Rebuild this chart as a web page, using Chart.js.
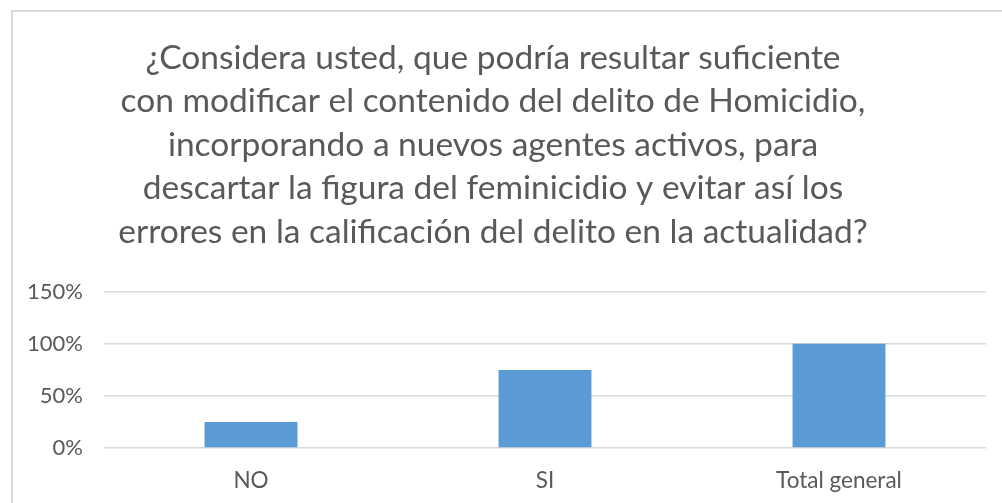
<!DOCTYPE html>
<html>
<head>
<meta charset="utf-8">
<script src="https://cdn.jsdelivr.net/npm/chart.js@4/dist/chart.umd.min.js"></script>
<style>
    html, body { margin: 0; padding: 0; background: #fff; }
    #wrap { position: relative; width: 1002px; height: 503px; overflow: hidden; }
    #frame { position: absolute; left: 11px; top: 10px; width: 1100px; height: 600px;
             border-left: 2px solid #d9d9d9; border-top: 2px solid #d9d9d9; }
    canvas { position: absolute; left: 0; top: 0; }
</style>
</head>
<body>
<div id="wrap">
    <div id="frame"></div>
    <canvas id="myChart" width="1002" height="503"></canvas>
</div>
<script>
const categories = ['NO', 'SI', 'Total general'];
const percentValues = [0.25, 0.75, 1.00];
const yTicks = [0, 0.5, 1, 1.5];
const titleLines = [
    '¿Considera usted, que podría resultar suficiente',
    'con modificar el contenido del delito de Homicidio,',
    'incorporando a nuevos agentes activos, para',
    'descartar la figura del feminicidio y evitar así los',
    'errores en la calificación del delito en la actualidad?'
];

const textColor = '#595959';
const gridColor = '#d9d9d9';

const ctx = document.getElementById('myChart').getContext('2d');

const myChart = new Chart(ctx, {
    type: 'bar',
    data: {
        labels: categories,
        datasets: [{
            data: percentValues,
            backgroundColor: '#5b9bd5',
            borderWidth: 0,
            barPercentage: 0.316,
            categoryPercentage: 1
        }]
    },
    options: {
        responsive: false,
        animation: false,
        layout: {
            padding: { left: 0, right: 16, top: 0, bottom: 0 }
        },
        scales: {
            x: {
                grid: { display: false },
                border: { display: false },
                ticks: {
                    color: textColor,
                    font: { family: 'Lato', size: 22.5 },
                    padding: 11
                },
                afterFit: (scale) => { scale.height = 55; }
            },
            y: {
                min: 0,
                max: 1.5,
                afterBuildTicks: (scale) => {
                    scale.ticks = yTicks.map(v => ({ value: v }));
                },
                grid: { color: gridColor, lineWidth: 1.5, drawTicks: false },
                border: { display: false },
                ticks: {
                    color: textColor,
                    font: { family: 'Lato', size: 22 },
                    padding: 21,
                    callback: (v) => Math.round(v * 100) + '%'
                },
                afterFit: (scale) => { scale.width = 104; }
            }
        },
        plugins: {
            legend: { display: false },
            tooltip: { enabled: false },
            title: {
                display: true,
                text: titleLines,
                color: textColor,
                font: { family: 'Lato', size: 33.5, weight: 'normal', lineHeight: 1.3 },
                padding: { top: 36, bottom: 38 }
            }
        }
    }
});
</script>
</body>
</html>
